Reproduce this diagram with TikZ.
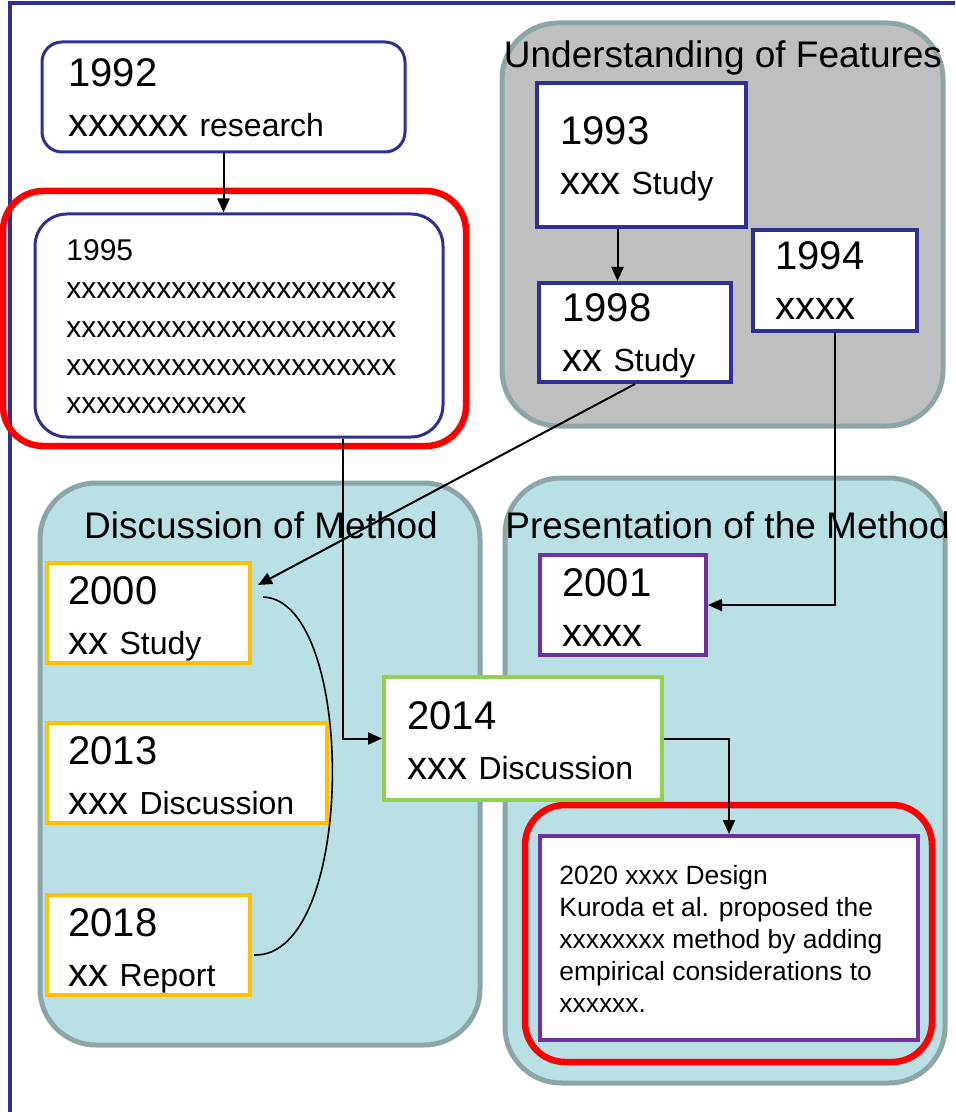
\documentclass[tikz,border=0pt]{standalone}
\usepackage{fontspec}
\setmainfont{Liberation Sans}
\usetikzlibrary{arrows.meta,positioning}

\definecolor{navy}{RGB}{46,49,146}
\definecolor{amber}{RGB}{255,192,0}
\definecolor{leaf}{RGB}{146,208,80}
\definecolor{plum}{RGB}{112,48,160}
\definecolor{pane}{RGB}{185,224,228}
\definecolor{paneline}{RGB}{140,166,168}
\definecolor{stone}{RGB}{191,191,191}

\newcommand\smallword[1]{{\fontsize{16}{25}\selectfont #1}}

\tikzset{
  yearbox/.style={draw=#1, line width=2pt, fill=white, inner sep=0pt},
  roundbox/.style={draw=navy, line width=1.5pt, fill=white, rounded corners=#1, inner sep=0pt},
  focus/.style={draw=red, line width=3.25pt, rounded corners=20pt, inner sep=0pt},
  groupbox/.style={draw=paneline, fill=#1, line width=2.5pt, rounded corners=28pt, inner sep=0pt},
  grouptitle/.style={anchor=base, inner sep=0pt, font=\fontsize{18.5}{22}\selectfont},
  boxtext/.style={anchor=north west, align=left, inner sep=0pt, font=\fontsize{20}{25}\selectfont},
  arr/.style={-{Triangle[length=7pt,width=6pt]}, line width=1pt},
  link/.style={line width=0.8pt}
}

\begin{document}
\begin{tikzpicture}[x=0.5pt, y=-0.5pt]
  \useasboundingbox (0,0) rectangle (955,1112);

  % frame
  \draw[navy, line width=2pt] (10,1112) -- (10,3) -- (955,3);

  % groups
  \node[groupbox=stone, minimum width=220.5pt, minimum height=201.5pt] (g1) at (722.5,224.5) {};
  \node[grouptitle] (h1) at (723,68) {Understanding of Features};
  \node[groupbox=pane, minimum width=220pt, minimum height=281pt] (g2) at (260,764) {};
  \node[grouptitle] (h2) at (261,538) {Discussion of Method};
  \node[groupbox=pane, minimum width=220pt, minimum height=302.5pt] (g3) at (725,780.5) {};
  \node[grouptitle] (h3) at (727.5,538) {Presentation of the Method};

  % highlighted
  \node[focus, minimum width=231.5pt, minimum height=127.5pt] (r1995) at (234.5,318.5) {};
  \node[focus, minimum width=203.5pt, minimum height=128.5pt] (r2020) at (728.5,933.5) {};

  % early work
  \node[roundbox=10pt, minimum width=181.5pt, minimum height=55pt] (b1992) at (223.5,97) {};
  \node[boxtext] (t1992) at (68,58) {1992\\xxxxxx \smallword{research}};
  \node[roundbox=16pt, minimum width=204pt, minimum height=111.5pt] (b1995) at (239,325.5) {};
  \node[boxtext, font=\fontsize{15}{19.2}\selectfont] (t1995) at (66,239)
    {1995\\xxxxxxxxxxxxxxxxxxxxxx\\xxxxxxxxxxxxxxxxxxxxxx\\xxxxxxxxxxxxxxxxxxxxxx\\xxxxxxxxxxxx};

  % features
  \node[yearbox=navy, minimum width=104.5pt, minimum height=72pt] (b1993) at (641.5,155) {};
  \node[boxtext] (t1993) at (560,116) {1993\\xxx \smallword{Study}};
  \node[yearbox=navy, minimum width=96pt, minimum height=49.5pt] (b1998) at (635,332.5) {};
  \node[boxtext] (t1998) at (562,293) {1998\\xx \smallword{Study}};
  \node[yearbox=navy, minimum width=82pt, minimum height=50.5pt] (b1994) at (835,280.5) {};
  \node[boxtext] (t1994) at (775,241) {1994\\xxxx};

  % discussion
  \node[yearbox=amber, minimum width=101.5pt, minimum height=50pt] (b2000) at (148.5,613) {};
  \node[boxtext] (t2000) at (68,576) {2000\\xx \smallword{Study}};
  \node[yearbox=amber, minimum width=140pt, minimum height=50pt] (b2013) at (187,773) {};
  \node[boxtext] (t2013) at (68,736) {2013\\xxx \smallword{Discussion}};
  \node[yearbox=amber, minimum width=101.5pt, minimum height=50pt] (b2018) at (148.5,945) {};
  \node[boxtext] (t2018) at (68,908) {2018\\xx \smallword{Report}};
  \node[yearbox=leaf, minimum width=139pt, minimum height=61.5pt] (b2014) at (523,738.5) {};
  \node[boxtext] (t2014) at (407,701) {2014\\xxx \smallword{Discussion}};

  % presentation
  \node[yearbox=plum, minimum width=83pt, minimum height=50pt] (b2001) at (623,605) {};
  \node[boxtext] (t2001) at (562,568) {2001\\xxxx};
  \node[yearbox=plum, minimum width=189pt, minimum height=102pt] (b2020) at (729,938) {};
  \node[boxtext, font=\fontsize{13.2}{16}\selectfont] (t2020) at (559,865)
    {2020 xxxx Design\\Kuroda et al. proposed the\\xxxxxxxx method by adding\\empirical considerations to\\xxxxxx.};

  % connectors
  \coordinate (k1993) at ([xshift=-12pt]b1993.south);
  \coordinate (k1995) at ([xshift=52pt]b1995.south);
  \coordinate (k2000) at ([shift={(6,-28)}]b2000.east);
  \draw[arr] (b1992.south) -- (b1992.south |- b1995.north);
  \draw[arr] (k1993) -- (k1993 |- b1998.north);
  \draw[arr] (b1998.south) -- (k2000);
  \draw[arr] (b1994.south) |- (b2001.east);
  \draw[arr] (k1995) |- (b2014.west);
  \draw[arr] (b2014.east) -| (b2020.north);
  \draw[link] ([shift={(11,-16)}]b2000.east) .. controls +(94,3) and +(103,3) .. ([shift={(2,10)}]b2018.east);

\end{tikzpicture}
\end{document}
